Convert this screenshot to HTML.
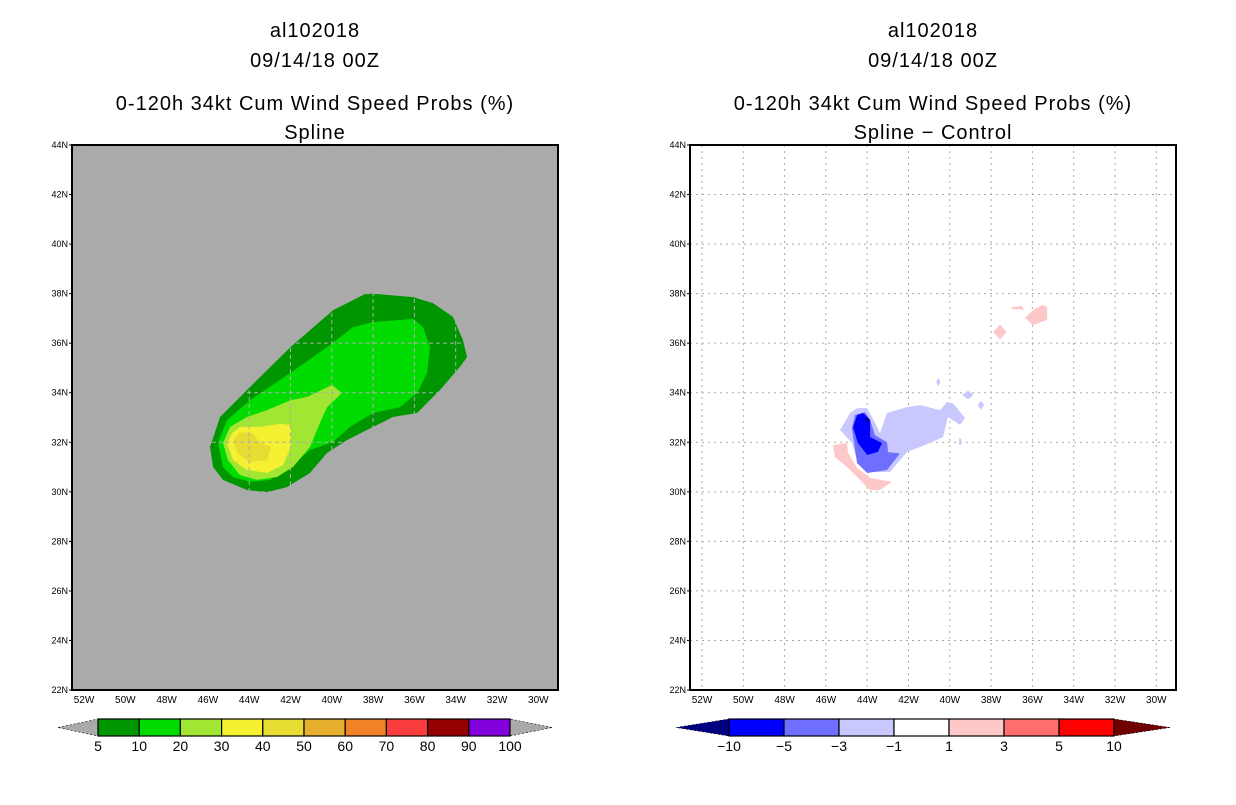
<!DOCTYPE html>
<html><head><meta charset="utf-8"><style>
body{margin:0;background:#fff;width:1236px;height:800px;overflow:hidden}
svg text{font-family:"Liberation Sans",sans-serif}
</style></head><body>
<svg id="s" width="1236" height="800" xmlns="http://www.w3.org/2000/svg"></svg>
<script>
const latTicks=[44,42,40,38,36,34,32,30,28,26,24,22];
const lonTicks=[52,50,48,46,44,42,40,38,36,34,32,30];
const probLevels=["5","10","20","30","40","50","60","70","80","90","100"];
const probColors=["#009600","#00dc00","#a0e632","#f5f032","#e6dc32","#e6af2d","#f08228","#fa3c3c","#960000","#8200dc"];
const diffLevels=["-10","-5","-3","-1","1","3","5","10"];
const diffColors=["#0000ff","#6e6eff","#c8c8ff","#ffffff","#ffc8c8","#ff6e6e","#ff0000"];
// polygons [lonW,latN]
const p5=[[45.9,31.81],[45.75,31.0],[45.27,30.48],[44.1,30.07],[43.14,29.99],[42.17,30.19],[41.06,30.76],[40.23,31.57],[39.26,32.09],[38.0,32.62],[37.04,33.02],[35.87,33.18],[34.76,34.11],[33.8,35.04],[33.45,35.44],[33.65,36.13],[34.13,37.06],[35.1,37.62],[36.07,37.86],[38.3,38.02],[39.94,37.33],[42.0,35.84],[43.96,34.23],[45.41,33.02]];
const p10=[[45.51,31.97],[45.27,31.0],[44.78,30.6],[43.96,30.4],[42.99,30.48],[42.0,31.0],[41.06,31.69],[39.94,32.01],[39.12,32.62],[38.0,33.18],[36.7,33.42],[35.87,33.99],[35.39,34.8],[35.24,35.84],[35.58,36.65],[36.07,36.98],[38.0,36.85],[38.97,36.65],[40.23,35.84],[42.0,34.8],[43.96,33.7],[45.07,32.9]];
const p20=[[45.27,31.97],[45.03,31.28],[44.45,30.68],[43.62,30.48],[42.65,30.6],[41.88,31.0],[41.06,31.81],[40.57,32.78],[40.23,33.42],[39.51,33.99],[39.99,34.31],[41.2,33.83],[42.0,33.7],[43.14,33.3],[44.1,33.02],[44.93,32.62]];
const p30=[[45.07,31.97],[44.78,31.28],[44.1,30.88],[43.14,30.76],[42.36,31.08],[41.98,31.81],[41.98,32.7],[42.51,32.74],[43.48,32.62],[44.45,32.62],[44.83,32.37]];
const p40=[[44.78,32.09],[44.59,31.57],[43.96,31.2],[43.14,31.28],[42.94,31.81],[43.48,31.97],[43.82,32.37],[44.45,32.41]];
const dLight=[[45.32,32.49],[44.83,33.18],[44.49,33.38],[44.0,33.38],[43.62,32.78],[43.38,32.37],[43.04,33.18],[42.07,33.42],[41.44,33.5],[40.47,33.3],[40.14,33.62],[39.85,33.58],[39.26,32.98],[39.51,32.7],[40.09,33.02],[40.33,32.21],[41.44,31.81],[42.07,31.61],[42.9,30.8],[43.72,30.8],[44.49,31.28],[44.74,31.97],[45.17,32.37]];
const dMed=[[44.74,32.57],[44.59,33.1],[44.1,33.22],[43.86,32.9],[43.62,32.29],[43.04,32.0],[42.99,31.6],[42.41,31.55],[43.04,30.88],[44.0,30.76],[44.49,31.16]];
const dDark=[[44.69,32.61],[44.49,33.1],[44.2,33.18],[43.86,32.9],[43.86,32.21],[43.28,31.97],[43.48,31.61],[44.0,31.49],[44.45,31.97]];
const dDarkest=[[44.1,32.95],[43.95,33.0],[43.9,32.85],[44.05,32.8]];
const dBlobs=[[[40.65,34.43],[40.57,34.6],[40.45,34.43],[40.57,34.26]],[[39.4,33.91],[39.12,34.08],[38.85,33.91],[39.12,33.74]],[[38.65,33.5],[38.49,33.68],[38.33,33.5],[38.49,33.32]],[[39.55,32.15],[39.45,32.15],[39.45,31.9],[39.55,31.9]]];
const pLow=[[45.66,31.89],[45.56,31.4],[44.98,31.0],[44.49,30.6],[43.86,30.07],[43.38,30.07],[42.8,30.4],[43.86,30.56],[44.49,30.96],[44.93,31.57],[44.98,31.97]];
const pUp=[[[37.9,36.45],[37.57,36.75],[37.25,36.45],[37.57,36.15]],[[36.36,37.02],[35.97,37.34],[35.49,37.54],[35.29,37.46],[35.29,36.94],[35.97,36.73]],[[37.0,37.45],[36.5,37.5],[36.4,37.35],[37.0,37.38]]];

const NS="http://www.w3.org/2000/svg",S=document.getElementById('s');
function el(t,a,txt){const e=document.createElementNS(NS,t);for(const k in a)e.setAttribute(k,a[k]);if(txt!==undefined)e.textContent=txt;S.appendChild(e);return e}
const T=145,B=690,W=486;
function yS(lat){return T+(44-lat)*(B-T)/22}
function mk(ox){return lon=>ox+12+(52-lon)*20.65}
function poly(x,pts,fill,name){const e=el('polygon',{points:pts.map(p=>x(p[0]).toFixed(1)+','+yS(p[1]).toFixed(1)).join(' '),fill:fill});

}
function panel(ox,bg,name){
 const x=mk(ox);
 const r=el('rect',{x:ox,y:T,width:W,height:B-T,fill:bg});
 
 
 return x;
}
function decorate(ox,x,dash,col,name,t2){
 for(const lt of latTicks){if(lt>22&&lt<44){const g=el('line',{x1:ox,x2:ox+W,y1:yS(lt),y2:yS(lt),stroke:col,'stroke-dasharray':dash});}
  const t=el('text',{x:ox-4,y:yS(lt)+3,'font-size':9,'text-anchor':'end'},lt+'N');
  el('line',{x1:ox-3,x2:ox,y1:yS(lt),y2:yS(lt),stroke:'#000'});}
 for(const ln of lonTicks){const g=el('line',{x1:x(ln),x2:x(ln),y1:T,y2:B,stroke:col,'stroke-dasharray':dash});
  const t=el('text',{x:x(ln),y:B+13,'font-size':10,'text-anchor':'middle'},ln+'W');}
 const f=el('rect',{x:ox,y:T,width:W,height:B-T,fill:'none',stroke:'#000','stroke-width':2});
 const cx=ox+W/2;
 [['al102018',37],['09/14/18 00Z',67],['0-120h 34kt Cum Wind Speed Probs (%)',110],[t2,139]].forEach((a,i)=>{const t=el('text',{x:cx,y:a[1],'font-size':20,'text-anchor':'middle','letter-spacing':1},a[0]);});
}
function cbar(x0,x1,tl,tr,cols,labs,lc,rc,name){
 const y0=719,y1=736,ym=727.5,n=cols.length,w=(x1-x0)/n;
 const a=el('polygon',{points:`${tl},${ym} ${x0},${y0} ${x0},${y1}`,fill:lc,stroke:'#000','stroke-dasharray':'2,2','stroke-width':0.6});
 const b=el('polygon',{points:`${tr},${ym} ${x1},${y0} ${x1},${y1}`,fill:rc,stroke:'#000','stroke-dasharray':'2,2','stroke-width':0.6});
 cols.forEach((c,i)=>{const r=el('rect',{x:x0+i*w,y:y0,width:w,height:y1-y0,fill:c,stroke:'#000','stroke-width':1.2});});
 labs.forEach((l,i)=>{const t=el('text',{x:x0+i*w,y:751,'font-size':14,'text-anchor':'middle'},l.replace('-','\u2212'));});
}
// left panel
let xl=panel(72,'#aaaaaa','left-panel');
poly(xl,p5,probColors[0],'prob-5-contour');poly(xl,p10,probColors[1],'prob-10-contour');poly(xl,p20,probColors[2],'prob-20-contour');poly(xl,p30,probColors[3],'prob-30-contour');poly(xl,p40,probColors[4],'prob-40-contour');
decorate(72,xl,'4,3','#adadad','left-panel','Spline');
// right panel
let xr=panel(690,'#ffffff','right-panel');
decorate(690,xr,'2,4','#aaaaaa','right-panel','Spline \u2212 Control');
poly(xr,dLight,diffColors[2],'diff-minus1-contour');
dBlobs.forEach(b=>poly(xr,b,diffColors[2],'diff-minus1-blob'));
poly(xr,dMed,diffColors[1],'diff-minus3-contour');poly(xr,dDark,diffColors[0],'diff-minus5-contour');poly(xr,dDarkest,'#000080','diff-minus10-contour');
poly(xr,pLow,diffColors[4],'diff-plus1-contour');
pUp.forEach(b=>poly(xr,b,diffColors[4],'diff-plus1-blob'));
cbar(98,510,58,552,probColors,probLevels,'#aaaaaa','#aaaaaa','prob-colorbar');
cbar(729,1114,676,1170,diffColors,diffLevels,'#000080','#700000','diff-colorbar');
</script>
</body></html>
